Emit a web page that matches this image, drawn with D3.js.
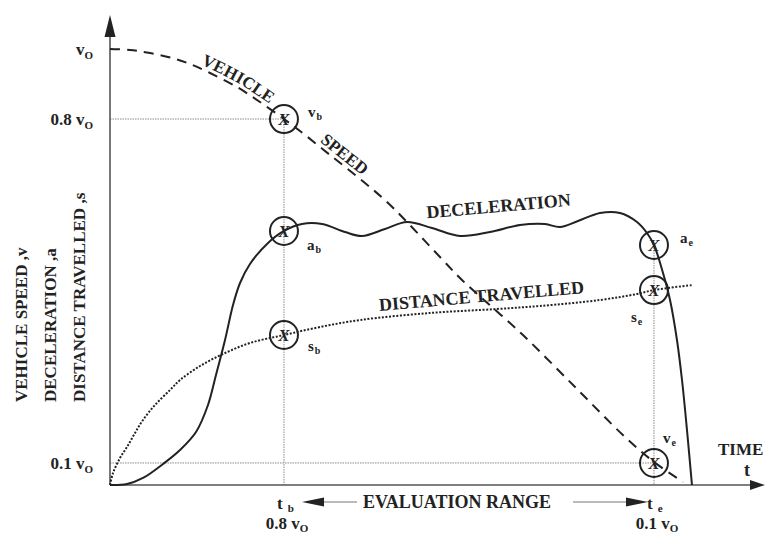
<!DOCTYPE html>
<html><head><meta charset="utf-8">
<script src="https://cdn.jsdelivr.net/npm/d3@7"></script>
<style>
body{margin:0;background:#fff}
svg{display:block}
text{font-family:"Liberation Serif","Times New Roman",serif;font-weight:bold;fill:#222}
</style>
</head><body>
<svg id="chart" width="765" height="536"></svg>
<script>
// ---- data (schematic units: time 0..100, value 0..100 where 100 = v0) ----
const speedT = [0, 3.05, 6.11, 9.47, 12.21, 15.27, 19.39, 22.90, 26.56, 29.01, 33.59, 38.93, 42.29, 45.34, 50.38, 53.89, 58.32, 63.05, 71.15, 78.63, 83.05, 87.48];
const speedV = [100, 99.77, 99.08, 97.94, 96.56, 94.50, 91.28, 87.84, 83.94, 81.19, 75.69, 69.27, 64.91, 60.32, 52.29, 46.79, 40.83, 34.40, 22.25, 11.01, 5.28, 0.69];

const decelT = [0, 2.60, 5.04, 8.09, 10.69, 13.13, 14.96, 16.18, 17.56, 18.78, 19.85, 21.37, 23.97, 26.56, 29.31, 32.37, 35.88, 38.47, 41.98, 45.34, 49.16, 53.44, 58.02, 62.60, 66.41, 68.70, 71.45, 74.81, 77.86, 80.46, 81.98, 83.05, 84.43, 85.50, 86.56, 87.33, 88.09, 88.85];
const decelA = [0, 0.23, 1.61, 4.82, 8.03, 12.16, 18.35, 25.23, 33.26, 41.28, 46.33, 50.69, 55.28, 58.26, 59.86, 59.86, 58.03, 57.11, 58.72, 60.32, 58.94, 57.11, 58.03, 59.63, 59.86, 59.17, 60.55, 62.39, 62.39, 60.32, 57.80, 55.05, 48.62, 42.43, 33.26, 24.08, 12.61, 0];

const distT = [0, 0.46, 1.53, 2.60, 3.82, 5.04, 6.87, 9.16, 10.69, 13.74, 17.25, 21.37, 26.56, 32.06, 38.17, 48.85, 59.08, 65.65, 74.81, 80.46, 83.05, 89.01];
const distS = [0, 2.75, 6.19, 8.72, 11.93, 14.91, 18.35, 21.79, 24.08, 27.29, 30.05, 32.57, 34.40, 36.24, 37.84, 39.45, 40.37, 41.06, 42.43, 43.81, 44.72, 45.87];

const yTickValues = [100, 83.94, 5.05];
const yTickMain = ["v", "0.8 v", "0.1 v"];
const yTickSub = ["O", "O", "O"];

const xTickValues = [26.56, 83.05];
const xTickMain = ["t", "t"];
const xTickSub = ["b", "e"];
const xTickSecond = ["0.8 v", "0.1 v"];

const markerT = [26.56, 26.56, 26.56, 83.05, 83.05, 83.05];
const markerY = [83.94, 58.26, 34.40, 55.05, 44.72, 5.05];
const markerMain = ["v", "a", "s", "a", "s", "v"];
const markerSub = ["b", "b", "b", "e", "e", "e"];

const yTitleLines = ["VEHICLE SPEED ,v", "DECELERATION ,a", "DISTANCE TRAVELLED ,s"];
const seriesLabels = ["VEHICLE", "SPEED", "DECELERATION", "DISTANCE TRAVELLED"];

// ---- drawing ----
const svg = d3.select("#chart");
const x = d3.scaleLinear().domain([0, 100]).range([110, 765]);
const y = d3.scaleLinear().domain([0, 100]).range([485, 49]);
const ink = "#222";
const gridC = "#8a8a8a";

// grid / reference lines
const grid = svg.append("g").attr("stroke", gridC).attr("stroke-width", 1).attr("stroke-dasharray", "1.5,1");
grid.append("line").attr("x1", x(0)).attr("x2", x(xTickValues[0])).attr("y1", y(yTickValues[1])).attr("y2", y(yTickValues[1]));
grid.append("line").attr("x1", x(xTickValues[0])).attr("x2", x(xTickValues[0])).attr("y1", y(yTickValues[1])).attr("y2", y(0));
grid.append("line").attr("x1", x(0)).attr("x2", x(xTickValues[1])).attr("y1", y(yTickValues[2])).attr("y2", y(yTickValues[2]));
grid.append("line").attr("x1", x(xTickValues[1])).attr("x2", x(xTickValues[1])).attr("y1", y(markerY[3])).attr("y2", y(0));

// axes
const axisG = svg.append("g");
axisG.append("line").attr("x1", x(0)).attr("x2", 752).attr("y1", y(0)).attr("y2", y(0)).attr("stroke", "#555").attr("stroke-width", 1.6);
axisG.append("line").attr("x1", x(0)).attr("x2", x(0)).attr("y1", y(0)).attr("y2", 36).attr("stroke", "#555").attr("stroke-width", 1.6);
axisG.append("path").attr("d", `M${x(0)},15 L${x(0)-5.5},37 L${x(0)+5.5},37 Z`).attr("fill", ink);
axisG.append("path").attr("d", `M765,${y(0)} L750,${y(0)-5} L750,${y(0)+5} Z`).attr("fill", ink);

// y tick labels
yTickValues.forEach((v, i) => {
  const t = axisG.append("text").attr("x", 93).attr("y", y(v) + 6).attr("text-anchor", "end").style("font-size", "17px");
  t.append("tspan").text(yTickMain[i]);
  t.append("tspan").attr("dy", 4).style("font-size", "11px").text(yTickSub[i]);
});

// x tick labels
xTickValues.forEach((v, i) => {
  const t = axisG.append("text").attr("x", x(v) - 7).attr("y", 509).style("font-size", "17px");
  t.append("tspan").text(xTickMain[i]);
  t.append("tspan").attr("dx", 5).attr("dy", 3).style("font-size", "11px").text(xTickSub[i]);
  const t2 = axisG.append("text").attr("x", x(v) + 3).attr("y", 529).attr("text-anchor", "middle").style("font-size", "17px");
  t2.append("tspan").text(xTickSecond[i]);
  t2.append("tspan").attr("dy", 3).style("font-size", "11px").text("O");
});

// time label
axisG.append("text").attr("x", 718).attr("y", 455).style("font-size", "17px").text("TIME");
axisG.append("text").attr("x", 747).attr("y", 476).attr("text-anchor", "middle").style("font-size", "18px").text("t");

// evaluation range
const ev = svg.append("g");
ev.append("text").attr("x", 457).attr("y", 508).attr("text-anchor", "middle").style("font-size", "18px").text("EVALUATION RANGE");
ev.append("line").attr("x1", 320).attr("x2", 357).attr("y1", 502).attr("y2", 502).attr("stroke", "#777").attr("stroke-width", 1.2);
ev.append("path").attr("d", "M302,502 L324,497.5 L324,506.5 Z").attr("fill", ink);
ev.append("line").attr("x1", 573).attr("x2", 632).attr("y1", 502).attr("y2", 502).attr("stroke", "#777").attr("stroke-width", 1.2);
ev.append("path").attr("d", "M648,502 L626,497.5 L626,506.5 Z").attr("fill", ink);

// y title
yTitleLines.forEach((s, i) => {
  const bx = [27, 56, 85][i];
  svg.append("text").attr("transform", `translate(${bx},402) rotate(-90)`).style("font-size", "17px").text(s);
});

// series
const line = d3.line().x(d => x(d[0])).y(d => y(d[1])).curve(d3.curveCatmullRom.alpha(0.5));
const speedPts = speedT.map((t, i) => [t, speedV[i]]);
const decelPts = decelT.map((t, i) => [t, decelA[i]]);
const distPts = distT.map((t, i) => [t, distS[i]]);

svg.append("path").attr("id", "speedPath").attr("d", line(speedPts)).attr("fill", "none")
  .attr("stroke", ink).attr("stroke-width", 2).attr("stroke-dasharray", "10,7");
svg.append("path").attr("d", line(decelPts)).attr("fill", "none").attr("stroke", ink).attr("stroke-width", 2);
svg.append("path").attr("d", line(distPts)).attr("fill", "none").attr("stroke", ink).attr("stroke-width", 2).attr("stroke-dasharray", "2,1.6");

// labels on speed curve
[[seriesLabels[0], 92], [seriesLabels[1], 233]].forEach(([s, off]) => {
  svg.append("text").attr("dy", -4).style("font-size", "17px")
    .append("textPath").attr("href", "#speedPath").attr("startOffset", off).text(s);
});
svg.append("text").attr("transform", "translate(499,212) rotate(-5)").attr("text-anchor", "middle").style("font-size", "18px").text(seriesLabels[2]);
svg.append("text").attr("transform", "translate(482,302) rotate(-5)").attr("text-anchor", "middle").style("font-size", "18px").text(seriesLabels[3]);

// markers
const labelOff = [[24, -2], [23, 19], [24, 16], [26, -2], [-23, 32], [9, -20]];
markerT.forEach((t, i) => {
  const cx = x(t), cy = y(markerY[i]);
  svg.append("circle").attr("cx", cx).attr("cy", cy).attr("r", 14).attr("fill", "none").attr("stroke", ink).attr("stroke-width", 2);
  svg.append("text").attr("x", cx).attr("y", cy + 6).attr("text-anchor", "middle").style("font-size", "17px").style("font-style", "italic").text("X");
  const lt = svg.append("text").attr("x", cx + labelOff[i][0]).attr("y", cy + labelOff[i][1]).style("font-size", "15px");
  lt.append("tspan").text(markerMain[i]);
  lt.append("tspan").attr("dx", 1).attr("dy", 3).style("font-size", "10px").text(markerSub[i]);
});
</script>
</body></html>
